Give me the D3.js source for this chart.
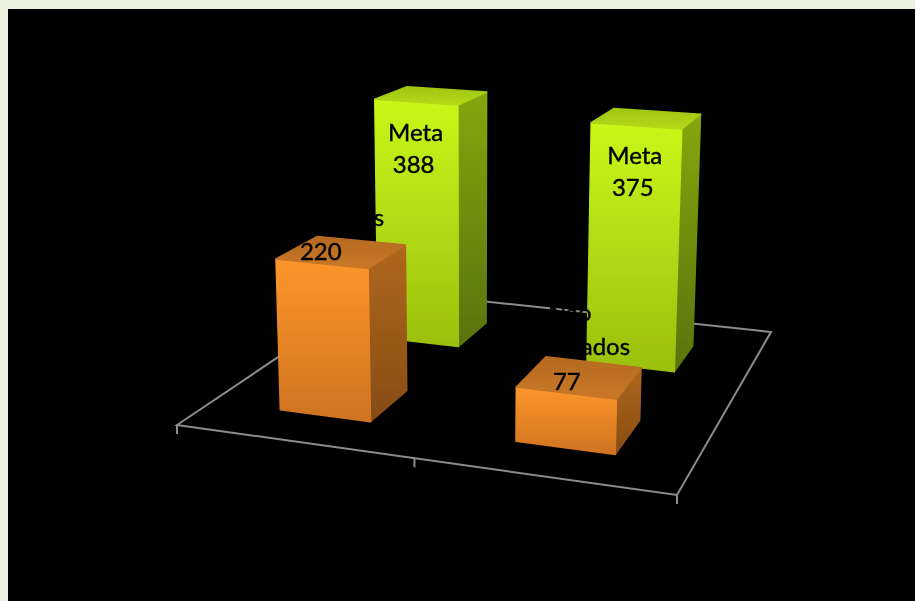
<!DOCTYPE html>
<html>
<head>
<meta charset="utf-8">
<script src="https://cdn.jsdelivr.net/npm/d3@7"></script>
<style>
html,body{margin:0;padding:0;background:#ebf1de;overflow:hidden}
svg{display:block}
text{font-family:Lato,"Open Sans",sans-serif;fill:#000;stroke:#000;stroke-width:0.4}
</style>
</head>
<body>
<svg id="c" width="915" height="601"></svg>
<script>
const categories = ["Realizados", "Não Realizados"];
const seriesNames = ["Realizados", "Meta"];
const metaValues = [388, 375];
const doneValues = [220, 77];
const metaLabel = "Meta";

// layout of the 3-D floor and camera (screen corners of the floor quad)
const floor = {A:[177,425],B:[677,495],C:[771,332],D:[378,290]};
const verticalVP = [470,7000];

const sx0=floor.A[0],sy0=floor.A[1],x1=floor.B[0],y1=floor.B[1],x2=floor.C[0],y2=floor.C[1],x3=floor.D[0],y3=floor.D[1];
const dx1=x1-x2,dx2=x3-x2,sx=sx0-x1+x2-x3,dy1=y1-y2,dy2=y3-y2,sy=sy0-y1+y2-y3;
const det=dx1*dy2-dx2*dy1;
const g=(sx*dy2-dx2*sy)/det,h=(dx1*sy-sx*dy1)/det;
const a=x1-sx0+g*x1,b=x3-sx0+h*x3,c=sx0,d=y1-sy0+g*y1,e=y3-sy0+h*y3,f=sy0;

const uScale=d3.scaleBand().domain(categories).range([0,1]).paddingInner(0.606).paddingOuter(0.303);
const vScale=d3.scaleBand().domain(seriesNames).range([-0.01,0.99]).paddingInner(0.62).paddingOuter(0.31);
const hScale=d3.scaleLinear().domain([0,400]).range([0,-0.0418]);

function project(u,v,val){
  const t=hScale(val);
  const w=g*u+h*v+1;
  const X=a*u+b*v+c+t*verticalVP[0];
  const Y=d*u+e*v+f+t*verticalVP[1];
  return [X/(w+t),Y/(w+t)];
}

const svg=d3.select("#c");
const defs=svg.append("defs");
function grad(id,top,bottom){
  const lg=defs.append("linearGradient").attr("id",id).attr("x1",0).attr("y1",0).attr("x2",0).attr("y2",1);
  lg.append("stop").attr("offset",0).attr("stop-color",top);
  lg.append("stop").attr("offset",1).attr("stop-color",bottom);
}
const palette={
  Meta:{front:["#c9f715","#9ac010"],side:["#84a60e","#587407"],top:["#9fc510","#b4da16"]},
  Realizados:{front:["#fd952b","#cf7320"],side:["#b0671e","#864c14"],top:["#b56a22","#c97826"]}
};
Object.entries(palette).forEach(([k,p])=>{
  grad(k+"f",p.front[0],p.front[1]);grad(k+"s",p.side[0],p.side[1]);grad(k+"t",p.top[0],p.top[1]);
});
defs.append("filter").attr("id","soft").append("feGaussianBlur").attr("stdDeviation",0.7);

svg.append("rect").attr("x",8).attr("y",9).attr("width",907).attr("height",592).attr("fill","#000");

const root=svg.append("g").attr("filter","url(#soft)");
const line=d3.line();
const floorG=root.append("g").attr("fill","none").attr("stroke","#8c8c8c").attr("stroke-width",2);
floorG.append("path").attr("d",line([[0,0],[1,0],[1,1],[0,1]].map(p=>project(p[0],p[1],0)))+"Z");
const axisTicks=[0,0.5,1];
floorG.selectAll("path.t").data(axisTicks).join("path").attr("class","t")
  .attr("d",u=>{const p=project(u,0,0);return line([p,[p[0],p[1]+9]]);});

function box(cat,ser,val){
  const u0=uScale(cat),u1=u0+uScale.bandwidth(),v0=vScale(ser),v1=v0+vScale.bandwidth();
  const G=root.append("g").attr("stroke-linejoin","round");
  const face=(pts,suffix)=>G.append("path").attr("d",line(pts)+"Z")
    .attr("fill",`url(#${ser}${suffix})`).attr("stroke",`url(#${ser}${suffix})`).attr("stroke-width",1.5);
  face([project(u1,v0,val),project(u1,v1,val),project(u1,v1,0),project(u1,v0,0)],"s");
  face([project(u0,v0,val),project(u1,v0,val),project(u1,v0,0),project(u0,v0,0)],"f");
  face([project(u0,v1,val),project(u1,v1,val),project(u1,v0,val),project(u0,v0,val)],"t");
}
// back row first
categories.forEach((cat,i)=>box(cat,"Meta",metaValues[i]));
categories.forEach((cat,i)=>box(cat,"Realizados",doneValues[i]));

// data labels: each row is [text, dx, dy] relative to the projected top centre of its column
function labelAt(cat,ser,val,rows){
  const uc=uScale(cat)+uScale.bandwidth()/2,vc=vScale(ser)+vScale.bandwidth()/2;
  const p=project(uc,vc,val);
  rows.forEach(r=>root.append("text").attr("x",p[0]+r[1]).attr("y",p[1]+r[2])
    .attr("text-anchor","middle").attr("dominant-baseline","middle").attr("font-size",24).text(r[0]));
}
labelAt(categories[0],"Meta",metaValues[0],[[metaLabel,-16,39],[String(metaValues[0]),-18,71]]);
labelAt(categories[1],"Meta",metaValues[1],[[metaLabel,-12,40],[String(metaValues[1]),-14,72]]);
labelAt(categories[0],"Realizados",doneValues[0],[["Realizados",-13,-32],[String(doneValues[0]),-21,2]]);
labelAt(categories[1],"Realizados",doneValues[1],[["Não",-10,-62],["Realizados",-5,-28],[String(doneValues[1]),-13,7]]);
</script>
</body>
</html>
